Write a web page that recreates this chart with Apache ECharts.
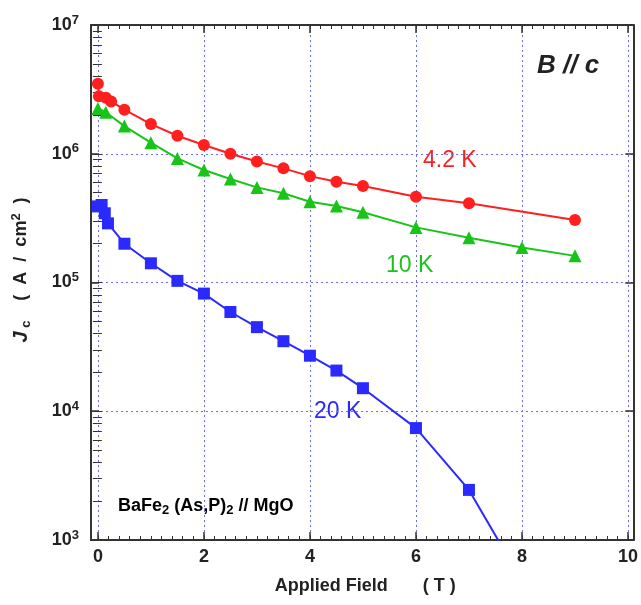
<!DOCTYPE html>
<html><head><meta charset="utf-8">
<script src="https://cdn.jsdelivr.net/npm/echarts@6/dist/echarts.min.js"></script>
<style>html,body{margin:0;padding:0;background:#fff}#c{width:641px;height:605px}</style>
</head><body><div id="c"></div>
<script>
// ---- data ----
const field42 = [0, 0.02, 0.15, 0.25, 0.5, 1, 1.5, 2, 2.5, 3, 3.5, 4, 4.5, 5, 6, 7, 9];
const jc42 = [3.5e6, 2.8e6, 2.72e6, 2.55e6, 2.2e6, 1.7e6, 1.38e6, 1.17e6, 1.0e6, 8.7e5, 7.7e5, 6.7e5, 6.07e5, 5.62e5, 4.64e5, 4.12e5, 3.06e5];
const field10 = [0, 0.15, 0.5, 1, 1.5, 2, 2.5, 3, 3.5, 4, 4.5, 5, 6, 7, 8, 9];
const jc10 = [2.25e6, 2.1e6, 1.64e6, 1.22e6, 9.2e5, 7.48e5, 6.37e5, 5.48e5, 4.93e5, 4.24e5, 3.93e5, 3.51e5, 2.68e5, 2.23e5, 1.87e5, 1.61e5];
const field20 = [0, 0.07, 0.13, 0.19, 0.5, 1, 1.5, 2, 2.5, 3, 3.5, 4, 4.5, 5, 6, 7, 8];
const jc20 = [3.9e5, 4.0e5, 3.45e5, 2.88e5, 2.0e5, 1.41e5, 1.03e5, 8.2e4, 5.9e4, 4.5e4, 3.5e4, 2.7e4, 2.07e4, 1.51e4, 7.4e3, 2.45e3, 4.8e2];

const xTickValues = [0, 2, 4, 6, 8, 10];
const xTickLabels = ['0', '2', '4', '6', '8', '10'];
const yTickValues = [1e3, 1e4, 1e5, 1e6, 1e7];
const yTickExps = ['3', '4', '5', '6', '7'];

// minor tick positions (decoration)
const xMinor = [];
for (let i = 0; i <= 50; i++) xMinor.push(Math.round(i * 0.2 * 100) / 100);
const yMinorLog = [];
for (let e = 3; e < 7; e++) for (let m = 1; m <= 10; m++) yMinorLog.push(Math.log10(m * Math.pow(10, e)));

const zip = (xs, ys) => xs.map((x, i) => [x, ys[i]]);

const FONT = 'Liberation Sans, Arial, sans-serif';
const frameColor = '#333';
const gridLine = { show: true, lineStyle: { color: '#6b6bff', type: [2, 3], width: 1 } };
const XMIN = -0.13, XMAX = 10.1;
const tickFont = { fontFamily: FONT, fontWeight: 'bold', fontSize: 18, color: '#222' };

const xAxes = [
  { type: 'value', position: 'bottom', min: XMIN, max: XMAX,
    axisLine: { show: true, onZero: false, lineStyle: { color: frameColor, width: 2 } },
    axisTick: { show: true, inside: true, length: 8, customValues: xTickValues, lineStyle: { color: frameColor, width: 1.5 } },
    axisLabel: { show: true, customValues: xTickValues, margin: 8, ...tickFont,
      formatter: v => xTickLabels[xTickValues.indexOf(Math.round(v))] },
    splitLine: gridLine,
    name: 'Applied Field       ( T )', nameLocation: 'middle', nameGap: 37,
    nameTextStyle: { ...tickFont, fontSize: 18, padding: [0, 0, 0, 6] } },
  { type: 'value', position: 'bottom', min: XMIN, max: XMAX,
    axisLine: { show: false }, axisLabel: { show: false }, splitLine: { show: false },
    axisTick: { show: true, inside: true, length: 4, customValues: xMinor, lineStyle: { color: frameColor } } },
  { type: 'value', position: 'top', min: XMIN, max: XMAX,
    axisLine: { show: true, onZero: false, lineStyle: { color: frameColor, width: 2 } },
    axisTick: { show: true, inside: true, length: 8, customValues: xTickValues, lineStyle: { color: frameColor, width: 1.5 } },
    axisLabel: { show: false }, splitLine: { show: false } },
  { type: 'value', position: 'top', min: XMIN, max: XMAX,
    axisLine: { show: false }, axisLabel: { show: false }, splitLine: { show: false },
    axisTick: { show: true, inside: true, length: 4, customValues: xMinor, lineStyle: { color: frameColor } } }
];

const yAxes = [
  { type: 'log', position: 'left', min: 1e3, max: 1e7, logBase: 10,
    axisLine: { show: true, onZero: false, lineStyle: { color: frameColor, width: 2 } },
    axisTick: { show: true, inside: true, length: 8, lineStyle: { color: frameColor, width: 1.5 } },
    axisLabel: { show: true, margin: 12,
      formatter: v => {
        let i = yTickValues.findIndex(t => Math.abs(t - v) / t < 1e-6);
        return i < 0 ? '' : '{b|10}{s|' + yTickExps[i] + '}';
      },
      rich: { b: { ...tickFont }, s: { ...tickFont, fontSize: 13, verticalAlign: 'top', padding: [0, 0, 10, 0] } } },
    splitLine: gridLine,
    name: '{t|     }{j|J}{c| c}{t|    (  A  /  cm}{s|2}{t|  )}', nameLocation: 'middle', nameGap: 58, nameRotate: 90,
    nameTextStyle: { rich: {
      j: { ...tickFont, fontStyle: 'italic', fontSize: 20 },
      c: { ...tickFont, fontSize: 13, padding: [9, 0, 0, 0] },
      t: { ...tickFont, fontSize: 18 },
      s: { ...tickFont, fontSize: 13, padding: [0, 0, 10, 0] } } } },
  { type: 'value', position: 'left', min: 3, max: 7,
    axisLine: { show: false }, axisLabel: { show: false }, splitLine: { show: false },
    axisTick: { show: true, inside: true, length: 4, customValues: yMinorLog, lineStyle: { color: frameColor } } },
  { type: 'log', position: 'right', min: 1e3, max: 1e7, logBase: 10,
    axisLine: { show: true, onZero: false, lineStyle: { color: frameColor, width: 2 } },
    axisTick: { show: true, inside: true, length: 8, lineStyle: { color: frameColor, width: 1.5 } },
    axisLabel: { show: false }, splitLine: { show: false } },
  { type: 'value', position: 'right', min: 3, max: 7,
    axisLine: { show: false }, axisLabel: { show: false }, splitLine: { show: false },
    axisTick: { show: true, inside: true, length: 5, customValues: yMinorLog, lineStyle: { color: frameColor } } }
];

const mkSeries = (name, data, color, symbol, size) => ({
  name, type: 'line', data, xAxisIndex: 0, yAxisIndex: 0,
  symbol, symbolSize: size,
  showSymbol: true, clip: true, animation: false,
  lineStyle: { color, width: 2 }, itemStyle: { color }, z: 5
});

const chart = echarts.init(document.getElementById('c'), null, { renderer: 'canvas' });
chart.setOption({
  animation: false,
  backgroundColor: '#fff',
  grid: { left: 91, right: 7, top: 25, bottom: 65, containLabel: false },
  xAxis: xAxes,
  yAxis: yAxes,
  series: [
    mkSeries('4.2 K', zip(field42, jc42), '#ff1f1f', 'circle', 12),
    mkSeries('10 K', zip(field10, jc10), '#19c419', 'triangle', 13),
    mkSeries('20 K', zip(field20, jc20), '#2a2aff', 'rect', 12)
  ],
  graphic: [
    { type: 'text', left: 537, top: 53, style: { text: 'B // c', font: 'italic bold 26px ' + FONT, fill: '#222' } },
    { type: 'text', left: 423, top: 149, style: { text: '4.2 K', font: '23px ' + FONT, fill: '#ff1f1f' } },
    { type: 'text', left: 386, top: 254, style: { text: '10 K', font: '23px ' + FONT, fill: '#19c419' } },
    { type: 'text', left: 314, top: 400, style: { text: '20 K', font: '23px ' + FONT, fill: '#2a2aff' } },
    { type: 'text', left: 118, top: 497, style: {
        text: '{a|BaFe}{s|2}{a| (As,P)}{s|2}{a| // MgO}',
        rich: { a: { fontFamily: FONT, fontWeight: 'bold', fontSize: 18, color: '#222' },
                s: { fontFamily: FONT, fontWeight: 'bold', fontSize: 13, color: '#222', padding: [9, 0, 0, 0] } } } }
  ]
});
</script></body></html>
